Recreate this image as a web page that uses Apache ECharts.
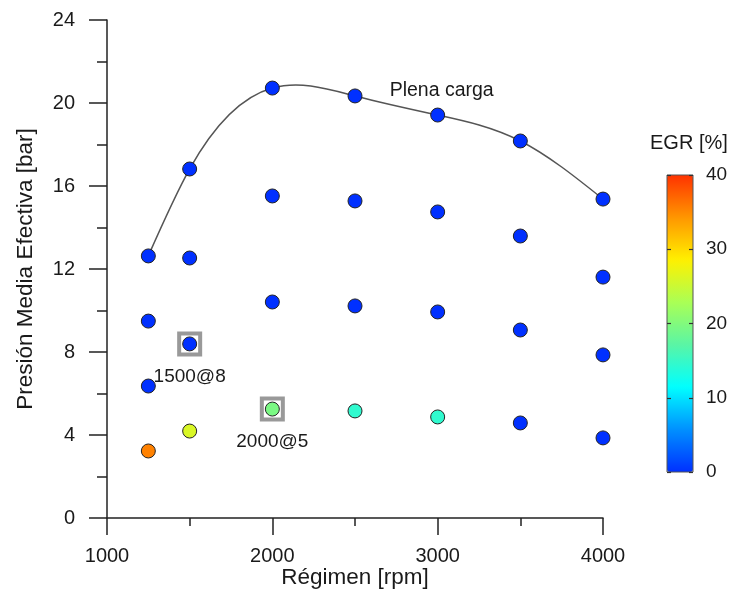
<!DOCTYPE html>
<html><head><meta charset="utf-8">
<script src="https://cdn.jsdelivr.net/npm/echarts@6/dist/echarts.min.js"></script>
<style>html,body{margin:0;padding:0;background:#fff}#c{width:731px;height:592px}</style>
</head><body><div id="c"></div>
<script>
// ---- data ----
const rpm = [1250, 1500, 2000, 2500, 3000, 3500, 4000];
const bmepFull = [12.63, 16.82, 20.72, 20.34, 19.42, 18.17, 15.37];
const bmepLoad2 = [9.49, 12.53, 15.52, 15.28, 14.75, 13.59, 11.61];
const bmepLoad3 = [6.36, 8.39, 10.41, 10.22, 9.93, 9.06, 7.86];
const bmepLoad4 = [3.23, 4.19, 5.25, 5.16, 4.87, 4.58, 3.86];
const egrFull = [0, 0, 0, 0, 0, 0, 0];
const egrLoad2 = [0, 0, 0, 0, 0, 0, 0];
const egrLoad3 = [0, 0, 0, 0, 0, 0, 0];
const egrLoad4 = [35.5, 26, 19.5, 14.5, 14.5, 0, 0];
const markedRpm = [1500, 2000];
const markedBmep = [8.39, 5.25];
const markedText = ['1500@8', '2000@5'];
const fullLoadLabel = 'Plena carga';
const fullLoadLabelRpm = 3000;
const xTicks = [1000, 2000, 3000, 4000];
const yTicks = [0, 4, 8, 12, 16, 20, 24];
const egrTicks = [0, 10, 20, 30, 40];

// ---- build ----
const FONT = '"Liberation Sans", Arial, sans-serif';
const TXT = '#1a1a1a';
const loads = [bmepFull, bmepLoad2, bmepLoad3, bmepLoad4];
const egrs = [egrFull, egrLoad2, egrLoad3, egrLoad4];
const points = [];
loads.forEach((arr, k) => arr.forEach((v, i) => {
  const item = { value: [rpm[i], v, egrs[k][i]] };
  if (k === 0 && rpm[i] === fullLoadLabelRpm) {
    item.label = { show: true, position: 'top', distance: 7, offset: [4, 0],
      formatter: fullLoadLabel, fontSize: 19.5, color: TXT, fontFamily: FONT };
  }
  points.push(item);
}));
const fullLine = rpm.map((r, i) => [r, bmepFull[i]]);
const boxes = markedRpm.map((r, i) => ({ value: [r, markedBmep[i]], name: markedText[i] }));

// natural cubic spline knot slopes (used only to render the curve through the data points)
function splineSlopes(xs, ys) {
  const n = xs.length, h = [], a = [], b = [], c = [], d = [];
  for (let i = 0; i < n - 1; i++) h.push(xs[i + 1] - xs[i]);
  const M = new Array(n).fill(0);
  const m = n - 2;
  for (let i = 1; i <= m; i++) {
    a.push(h[i - 1]); b.push(2 * (h[i - 1] + h[i])); c.push(h[i]);
    d.push(6 * ((ys[i + 1] - ys[i]) / h[i] - (ys[i] - ys[i - 1]) / h[i - 1]));
  }
  for (let i = 1; i < m; i++) { const w = a[i] / b[i - 1]; b[i] -= w * c[i - 1]; d[i] -= w * d[i - 1]; }
  const sol = new Array(m);
  for (let i = m - 1; i >= 0; i--) sol[i] = (d[i] - (i < m - 1 ? c[i] * sol[i + 1] : 0)) / b[i];
  for (let i = 0; i < m; i++) M[i + 1] = sol[i];
  const s = [];
  for (let i = 0; i < n - 1; i++) s.push((ys[i + 1] - ys[i]) / h[i] - h[i] * (2 * M[i] + M[i + 1]) / 6);
  s.push((ys[n - 1] - ys[n - 2]) / h[n - 2] + h[n - 2] * (M[n - 2] + 2 * M[n - 1]) / 6);
  return s;
}
const slopes = splineSlopes(rpm, bmepFull);

function renderSpline(params, api) {
  if (params.dataIndex !== 0) return;
  const children = [];
  for (let i = 0; i < rpm.length - 1; i++) {
    const hh = rpm[i + 1] - rpm[i];
    const p0 = api.coord([rpm[i], bmepFull[i]]);
    const p1 = api.coord([rpm[i] + hh / 3, bmepFull[i] + slopes[i] * hh / 3]);
    const p2 = api.coord([rpm[i + 1] - hh / 3, bmepFull[i + 1] - slopes[i + 1] * hh / 3]);
    const p3 = api.coord([rpm[i + 1], bmepFull[i + 1]]);
    children.push({ type: 'bezierCurve',
      shape: { x1: p0[0], y1: p0[1], cpx1: p1[0], cpy1: p1[1], cpx2: p2[0], cpy2: p2[1], x2: p3[0], y2: p3[1] },
      style: { stroke: '#555', lineWidth: 1.5, fill: null } });
  }
  return { type: 'group', children };
}

const chart = echarts.init(document.getElementById('c'), null, { renderer: 'canvas' });
chart.setOption({
  animation: false,
  textStyle: { fontFamily: FONT },
  grid: [
    { left: 107, right: 128, top: 20, bottom: 74, outerBoundsMode: 'none', containLabel: false },
    { left: 667, top: 175, width: 26, height: 297, show: true, borderColor: '#555', borderWidth: 1,
      backgroundColor: 'rgba(0,0,0,0)', z: 10, outerBoundsMode: 'none', containLabel: false }
  ],
  xAxis: [
    { gridIndex: 0, type: 'value', min: xTicks[0], max: xTicks[xTicks.length - 1], interval: xTicks[1] - xTicks[0],
      name: 'Régimen [rpm]', nameLocation: 'middle', nameGap: 48, nameMoveOverlap: false,
      nameTextStyle: { fontSize: 22.5, color: TXT, fontFamily: FONT },
      axisLine: { lineStyle: { color: '#222', width: 1.5 } },
      axisTick: { show: true, length: 17, lineStyle: { color: '#222', width: 1.5 } },
      minorTick: { show: true, splitNumber: 2, length: 8, lineStyle: { color: '#222', width: 1.5 } },
      axisLabel: { fontSize: 20, color: TXT, margin: 28, fontFamily: FONT, formatter: v => String(v) },
      splitLine: { show: false } },
    { gridIndex: 1, type: 'value', show: false, min: 0, max: 1 }
  ],
  yAxis: [
    { gridIndex: 0, type: 'value', min: yTicks[0], max: yTicks[yTicks.length - 1], interval: yTicks[1] - yTicks[0],
      name: 'Presión Media Efectiva [bar]', nameLocation: 'middle', nameGap: 70, nameMoveOverlap: false,
      nameTextStyle: { fontSize: 22.5, color: TXT, fontFamily: FONT },
      axisLine: { show: true, lineStyle: { color: '#222', width: 1.5 } },
      axisTick: { show: true, length: 18, lineStyle: { color: '#222', width: 1.5 } },
      minorTick: { show: true, splitNumber: 2, length: 10, lineStyle: { color: '#222', width: 1.5 } },
      axisLabel: { fontSize: 20, color: TXT, margin: 32, fontFamily: FONT },
      splitLine: { show: false } },
    { gridIndex: 1, type: 'value', position: 'left', min: egrTicks[0], max: egrTicks[egrTicks.length - 1],
      interval: egrTicks[1] - egrTicks[0], z: 20,
      axisLine: { show: false }, axisLabel: { show: false }, splitLine: { show: false },
      axisTick: { show: true, inside: true, length: 4, lineStyle: { color: '#333', width: 1.2 } } },
    { gridIndex: 1, type: 'value', position: 'right', min: egrTicks[0], max: egrTicks[egrTicks.length - 1],
      interval: egrTicks[1] - egrTicks[0], z: 20,
      axisLine: { show: false }, splitLine: { show: false },
      axisTick: { show: true, inside: true, length: 4, lineStyle: { color: '#333', width: 1.2 } },
      axisLabel: { show: true, fontSize: 19, color: TXT, margin: 13, fontFamily: FONT } }
  ],
  visualMap: {
    type: 'continuous', seriesIndex: 2, dimension: 2, min: 0, max: 40,
    left: 667, top: 175, itemWidth: 26, itemHeight: 297, padding: 0,
    calculable: false, hoverLink: false, text: null, orient: 'vertical',
    inRange: { color: ['#0030ff', '#0090ff', '#00ffff', '#5af5a5', '#aaff55', '#fff000', '#ff9600', '#ff3200'] }
  },
  graphic: [
    { type: 'text', left: 650, top: 133, z: 50,
      style: { text: 'EGR [%]', fontSize: 20, fill: TXT, fontFamily: FONT } }
  ],
  series: [
    { type: 'custom', coordinateSystem: 'cartesian2d', xAxisIndex: 0, yAxisIndex: 0,
      data: fullLine, renderItem: renderSpline, z: 2, silent: true },
    { type: 'scatter', xAxisIndex: 0, yAxisIndex: 0, data: boxes, symbol: 'rect', symbolSize: 21,
      itemStyle: { color: 'rgba(255,255,255,0)', borderColor: '#808080', borderWidth: 4 },
      label: { show: true, position: 'bottom', distance: 11, formatter: p => p.name, opacity: 1,
        fontSize: 19, color: TXT, fontFamily: FONT, textBorderWidth: 0 }, z: 3, silent: true },
    { type: 'scatter', xAxisIndex: 0, yAxisIndex: 0, data: points, symbol: 'circle', symbolSize: 14,
      itemStyle: { borderColor: '#222', borderWidth: 1, opacity: 1 }, z: 4, silent: true }
  ]
});
</script></body></html>
